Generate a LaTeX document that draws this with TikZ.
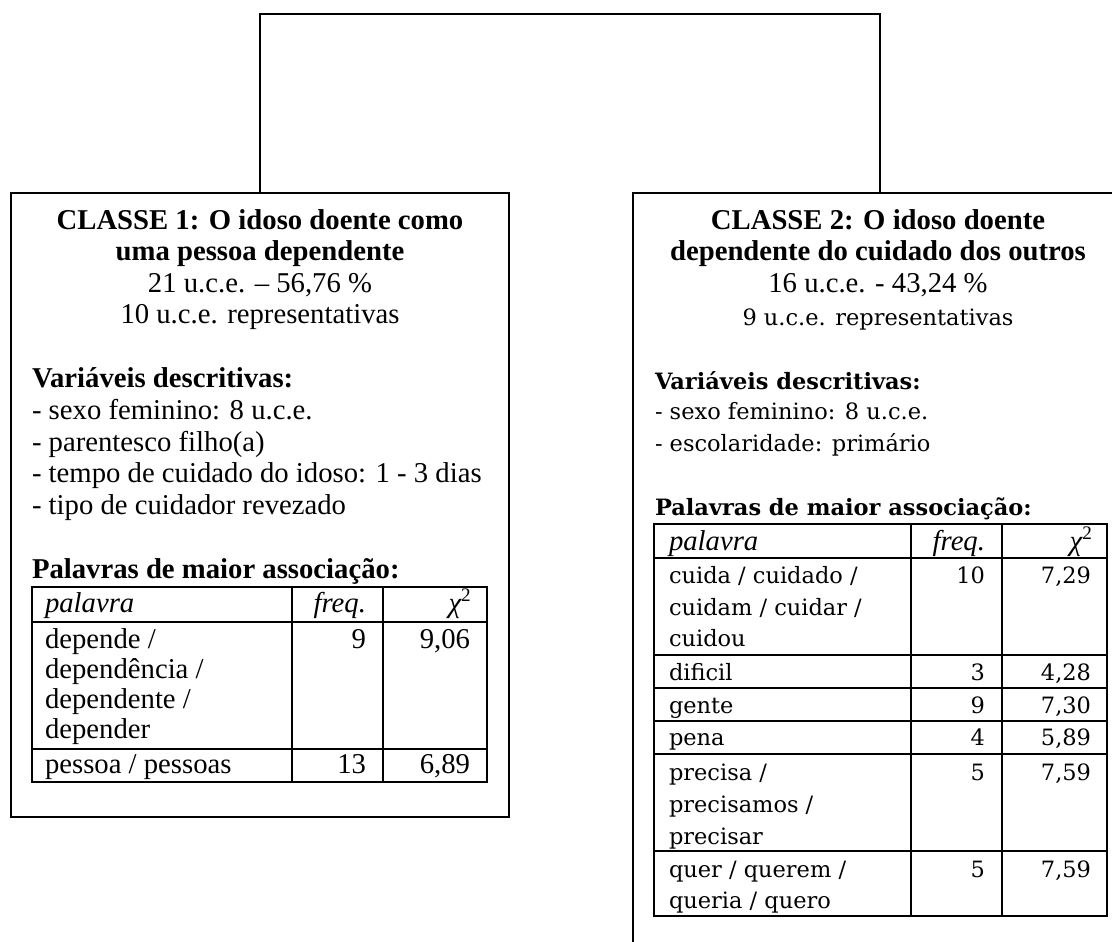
\documentclass[tikz,border=0pt]{standalone}
\usepackage{fontspec}
\setmainfont{Liberation Serif}
\newfontfamily\cent{DejaVu Serif}
\begin{document}
\begin{tikzpicture}[x=0.418pt,y=-0.418pt,
  every node/.style={inner sep=0pt, outer sep=0pt, font=\fontsize{12}{14}\selectfont},
  L/.style={anchor=base west}, C/.style={anchor=base}, R/.style={anchor=base east},
  bx/.style={draw, line width=0.85pt},
  ln/.style={line width=0.85pt},
  tb/.style={line width=0.6pt},
  cf/.style={font=\cent\fontsize{9.4}{11}\selectfont},
  bf/.style={font=\fontsize{12}{14}\selectfont\bfseries},
  cbf/.style={font=\cent\fontsize{9.4}{11}\selectfont\bfseries},
  it/.style={font=\fontsize{12}{14}\selectfont\itshape}]
\useasboundingbox (0,0) rectangle (1116,942);
% boxes
\node[bx, minimum width=208.16pt, minimum height=260.83pt, anchor=north west] (c1) at (11,193) {};
\node[minimum width=200.22pt, minimum height=313.08pt, anchor=north west] (c2) at (633,193) {};
\draw[ln] (c2.north east) -- (c2.north west) -- (c2.south west);
% bracket
\coordinate (root) at (570,14);
\coordinate (c2top) at (880,193);
\draw[ln] (c1.north) |- (root) -| (c2top);

% ---- left box text
\node[C,bf] (t1a) at (260,230) {CLASSE 1: O idoso doente como};
\node[C,bf] (t1b) at (260,261) {uma pessoa dependente};
\node[C] (t1c) at (260,293) {21 u.c.e. – 56,76 \%};
\node[C] (t1d) at (260,324) {10 u.c.e. representativas};
\node[L,bf] (v1) at (32,388) {Variáveis descritivas:};
\node[L] (v1a) at (32,420) {- sexo feminino: 8 u.c.e.};
\node[L] (v1b) at (32,451) {- parentesco filho(a)};
\node[L] (v1c) at (32,482) {- tempo de cuidado do idoso: 1 - 3 dias};
\node[L] (v1d) at (32,514) {- tipo de cuidador revezado};
\node[L,bf] (p1) at (32,578) {Palavras de maior associação:};
% left table
\draw[tb] (32,587) rectangle (487,782);
\draw[tb] (32,622) -- (487,622) (32,749) -- (487,749);
\draw[tb] (292,587) -- (292,782) (383,587) -- (383,782);
\node[L,it] (h1a) at (45,612) {palavra};
\node[R,it] (h1b) at (366,612) {freq.};
\node[R,it] (h1c) at (472,612) {χ\textsuperscript{\upshape 2}};
\node[L] (r1a) at (45,648) {depende /};
\node[L] (r1b) at (45,678) {dependência /};
\node[L] (r1c) at (45,708) {dependente /};
\node[L] (r1d) at (45,738) {depender};
\node[R] (f1a) at (366,648) {9};
\node[R] (x1a) at (470,648) {9,06};
\node[L] (r2a) at (45,773) {pessoa / pessoas};
\node[R] (f2a) at (366,773) {13};
\node[R] (x2a) at (470,773) {6,89};

% ---- right box text
\node[C,bf] (t2a) at (878,230) {CLASSE 2: O idoso doente};
\node[C,bf] (t2b) at (878,261) {dependente do cuidado dos outros};
\node[C] (t2c) at (878,293) {16 u.c.e. - 43,24 \%};
\node[C,cf] (t2d) at (878,326) {9 u.c.e. representativas};
\node[L,cbf] (v2) at (655,390) {Variáveis descritivas:};
\node[L,cf] (v2a) at (655,420) {- sexo feminino: 8 u.c.e.};
\node[L,cf] (v2b) at (655,452) {- escolaridade: primário};
\node[L,cbf] (p2) at (655,515) {Palavras de maior associação:};
% right table
\draw[tb] (654,524) rectangle (1107,916);
\foreach \yy in {558,655,688,721,754,851} \draw[tb] (654,\yy) -- (1107,\yy);
\draw[tb] (911,524) -- (911,916) (1002,524) -- (1002,916);
\node[L,it] (h2a) at (669,550) {palavra};
\node[R,it] (h2b) at (985,550) {freq.};
\node[R,it] (h2c) at (1093,550) {χ\textsuperscript{\upshape 2}};
\node[L,cf] (s1a) at (669,583) {cuida / cuidado /};
\node[L,cf] (s1b) at (669,615) {cuidam / cuidar /};
\node[L,cf] (s1c) at (669,646) {cuidou};
\node[R,cf] (g1) at (985,583) {10};
\node[R,cf] (k1) at (1091,583) {7,29};
\node[L,cf] (s2) at (669,680) {dificil};
\node[R,cf] (g2) at (985,680) {3};
\node[R,cf] (k2) at (1091,680) {4,28};
\node[L,cf] (s3) at (669,713) {gente};
\node[R,cf] (g3) at (985,713) {9};
\node[R,cf] (k3) at (1091,713) {7,30};
\node[L,cf] (s4) at (669,745) {pena};
\node[R,cf] (g4) at (985,745) {4};
\node[R,cf] (k4) at (1091,745) {5,89};
\node[L,cf] (s5a) at (669,780) {precisa /};
\node[L,cf] (s5b) at (669,812) {precisamos /};
\node[L,cf] (s5c) at (669,844) {precisar};
\node[R,cf] (g5) at (985,780) {5};
\node[R,cf] (k5) at (1091,780) {7,59};
\node[L,cf] (s6a) at (669,877) {quer / querem /};
\node[L,cf] (s6b) at (669,908) {queria / quero};
\node[R,cf] (g6) at (985,877) {5};
\node[R,cf] (k6) at (1091,877) {7,59};
\end{tikzpicture}
\end{document}
